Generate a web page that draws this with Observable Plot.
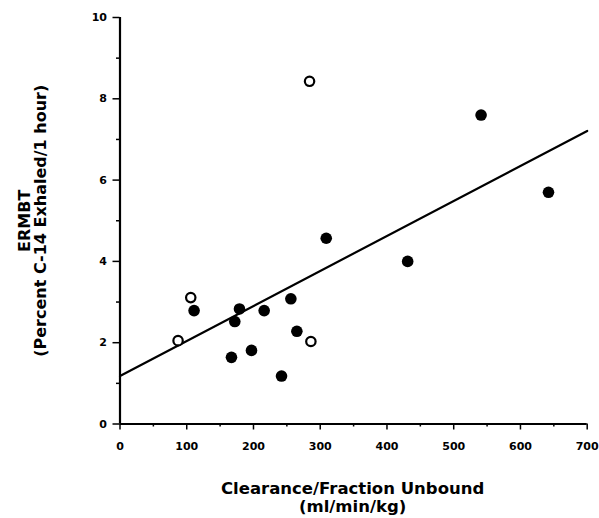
<!DOCTYPE html>
<html><head><meta charset="utf-8">
<script src="https://cdn.jsdelivr.net/npm/d3@7"></script>
<script src="https://cdn.jsdelivr.net/npm/@observablehq/plot@0.6"></script>
<style>
html,body{margin:0;padding:0;background:#fff}
</style>
</head><body><div id="chart"></div>
<script>
// Filled circles
const filledX = [111, 167, 172, 179, 197, 216, 242, 256, 265, 309, 431, 541, 642];
const filledY = [2.79, 1.64, 2.52, 2.83, 1.81, 2.79, 1.18, 3.08, 2.28, 4.57, 4.0, 7.6, 5.7];
// Open circles
const openX = [87, 106, 284, 286];
const openY = [2.05, 3.11, 8.43, 2.03];
// Fitted line endpoints
const fitX = [0, 700];
const fitY = [1.18, 7.21];
// Ticks
const xMajor = [0, 100, 200, 300, 400, 500, 600, 700];
const xMinor = [50, 150, 250, 350, 450, 550, 650];
const yMajor = [0, 2, 4, 6, 8, 10];
const yMinor = [1, 3, 5, 7, 9];
const xTitle = ["Clearance/Fraction Unbound", "(ml/min/kg)"];
const yTitle = ["ERMBT", "(Percent C-14 Exhaled/1 hour)"];

const filled = filledX.map((x, i) => ({x, y: filledY[i]}));
const open = openX.map((x, i) => ({x, y: openY[i]}));
const fit = fitX.map((x, i) => ({x, y: fitY[i]}));

const chart = Plot.plot({
  width: 599,
  height: 518,
  marginLeft: 119.5,
  marginRight: 12.3,
  marginTop: 17,
  marginBottom: 94.5,
  style: {fontFamily: "DejaVu Sans", fontSize: "11px", color: "#000", background: "#fff"},
  x: {domain: [0, 700]},
  y: {domain: [0, 10]},
  marks: [
    Plot.axisY(yMajor, {tickSize: 7, tickPadding: 6, strokeWidth: 1.5, label: null, fontSize: 11, fontWeight: "bold"}),
    Plot.axisY(yMinor, {tickSize: 3.5, strokeWidth: 1.5, tickFormat: () => "", label: null}),
    Plot.axisX(xMajor, {tickSize: 6, tickPadding: 12, strokeWidth: 1.5, label: null, fontSize: 11, fontWeight: "bold"}),
    Plot.axisX(xMinor, {tickSize: 3, strokeWidth: 1.5, tickFormat: () => "", label: null}),
    Plot.ruleX([0], {strokeWidth: 2.2}),
    Plot.ruleY([0], {strokeWidth: 2.2}),
    Plot.line(fit, {x: "x", y: "y", stroke: "#000", strokeWidth: 2.2}),
    Plot.dot(filled, {x: "x", y: "y", r: 5.8, fill: "#000", stroke: "none"}),
    Plot.dot(open, {x: "x", y: "y", r: 4.7, fill: "#fff", stroke: "#000", strokeWidth: 2.2}),
    Plot.text([xTitle[0]], {frameAnchor: "bottom", dx: -1, dy: 70, lineAnchor: "bottom", fontSize: 16.5, fontWeight: "bold"}),
    Plot.text([xTitle[1]], {frameAnchor: "bottom", dx: -1, dy: 87.5, lineAnchor: "bottom", fontSize: 16.5, fontWeight: "bold"}),
    Plot.text([yTitle[0]], {frameAnchor: "left", textAnchor: "middle", rotate: -90, dx: -90, dy: 0, lineAnchor: "bottom", fontSize: 16, fontWeight: "bold"}),
    Plot.text([yTitle[1]], {frameAnchor: "left", textAnchor: "middle", rotate: -90, dx: -74, dy: 0, lineAnchor: "bottom", fontSize: 16, fontWeight: "bold"})
  ]
});
document.getElementById("chart").appendChild(chart);
</script>
</body></html>
